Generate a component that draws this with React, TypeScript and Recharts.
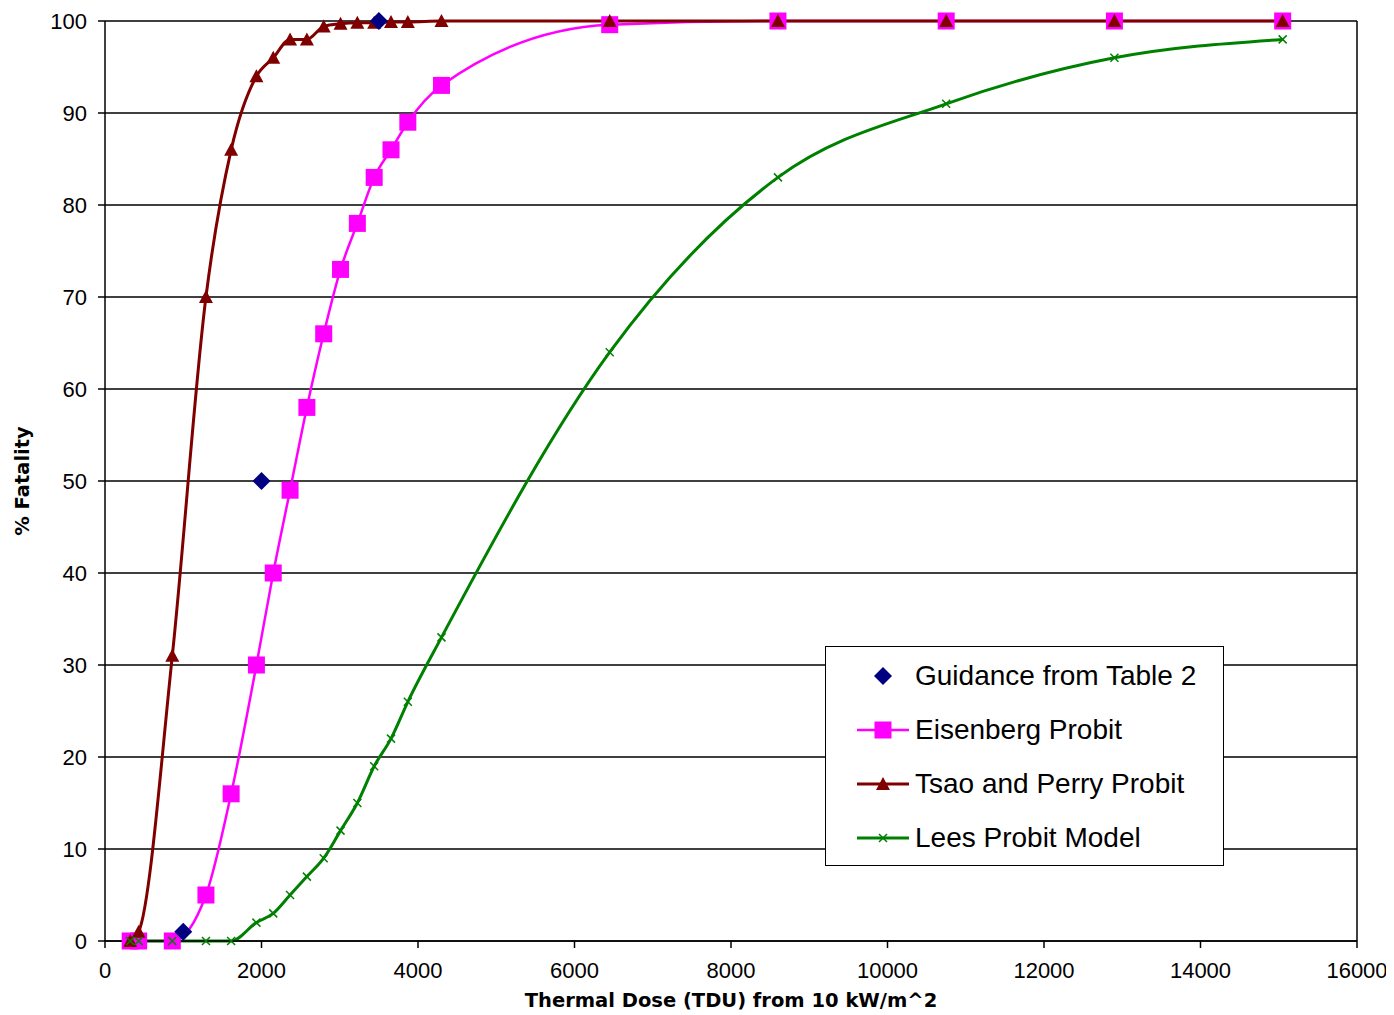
import { LineChart, Line, XAxis, YAxis, CartesianGrid, Legend, ReferenceLine } from 'recharts';

// thermal dose steps (TDU) shared by the three probit models
const doses = [322, 430, 860, 1290, 1612, 1935, 2150, 2365, 2580, 2795, 3010, 3225, 3440, 3655, 3870, 4300, 6450, 8600, 10750, 12900, 15050];

const eisenbergFatality = [0, 0, 0, 5, 16, 30, 40, 49, 58, 66, 73, 78, 83, 86, 89, 93, 99.6, 100, 100, 100, 100];
const tsaoPerryFatality = [0, 1, 31, 70, 86, 94, 96, 98, 98, 99.4, 99.7, 99.8, 99.8, 99.9, 99.9, 100, 100, 100, 100, 100, 100];
const leesFatality = [0, 0, 0, 0, 0, 2, 3, 5, 7, 9, 12, 15, 19, 22, 26, 33, 64, 83, 91, 96, 98];

const guidanceDoses = [1000, 2000, 3500];
const guidanceFatality = [1, 50, 100];

const xTicks = [0, 2000, 4000, 6000, 8000, 10000, 12000, 14000, 16000];
const yTicks = [0, 10, 20, 30, 40, 50, 60, 70, 80, 90, 100];

const toPoints = (xs: number[], ys: number[]) => xs.map((x, i) => ({ x, y: ys[i] }));

const eisenberg = toPoints(doses, eisenbergFatality);
const tsaoPerry = toPoints(doses, tsaoPerryFatality);
const lees = toPoints(doses, leesFatality);
const guidance = toPoints(guidanceDoses, guidanceFatality);

const MAGENTA = '#FF00FF';
const MAROON = '#800000';
const GREEN = '#008000';
const NAVY = '#000080';

const tickFont = { fill: '#000', fontSize: 22, fontFamily: '"Liberation Sans", Arial, sans-serif' };
const titleFont = { fill: '#000', fontSize: 19.5, fontWeight: 700, fontFamily: '"DejaVu Sans", Verdana, sans-serif' };

type Pt = { cx: number; cy: number };

const Square = ({ cx, cy }: Pt) => <rect x={cx - 8.5} y={cy - 8.5} width={17} height={17} fill={MAGENTA} />;

const Triangle = ({ cx, cy }: Pt) => (
  <polygon points={`${cx},${cy - 7} ${cx + 7},${cy + 6} ${cx - 7},${cy + 6}`} fill={MAROON} />
);

const Cross = ({ cx, cy }: Pt) => (
  <path d={`M${cx - 4},${cy - 4}L${cx + 4},${cy + 4}M${cx - 4},${cy + 4}L${cx + 4},${cy - 4}`} stroke={GREEN} strokeWidth={1.5} fill="none" />
);

const Diamond = ({ cx, cy }: Pt) => (
  <polygon points={`${cx},${cy - 9} ${cx + 9},${cy} ${cx},${cy + 9} ${cx - 9},${cy}`} fill={NAVY} />
);

const legendItems = [
  { name: 'Guidance from Table 2', color: NAVY, line: false, width: 0, Marker: Diamond },
  { name: 'Eisenberg Probit', color: MAGENTA, line: true, width: 2.5, Marker: Square },
  { name: 'Tsao and Perry Probit', color: MAROON, line: true, width: 3, Marker: Triangle },
  { name: 'Lees Probit Model', color: GREEN, line: true, width: 3, Marker: Cross },
];

function LegendBox() {
  return (
    <div
      style={{
        width: 399,
        height: 220,
        boxSizing: 'border-box',
        border: '1px solid #000',
        background: '#fff',
        paddingTop: 2,
        display: 'flex',
        flexDirection: 'column',
      }}
    >
      {legendItems.map(({ name, color, line, width, Marker }) => (
        <div key={name} style={{ height: 54.5, display: 'flex', alignItems: 'center' }}>
          <svg width={52} height={24} style={{ marginLeft: 31, marginRight: 6 }}>
            {line && <line x1={0} y1={12} x2={52} y2={12} stroke={color} strokeWidth={width} />}
            <Marker cx={26} cy={12} />
          </svg>
          <span style={{ fontSize: 28, fontFamily: '"Liberation Sans", Arial, sans-serif', color: '#000', whiteSpace: 'nowrap' }}>
            {name}
          </span>
        </div>
      ))}
    </div>
  );
}

function XTitle({ viewBox }: any) {
  return (
    <text x={viewBox.x + viewBox.width / 2} y={viewBox.y + 66} textAnchor="middle" {...titleFont}>
      Thermal Dose (TDU) from 10 kW/m^2
    </text>
  );
}

function YTitle({ viewBox }: any) {
  const x = viewBox.x + 14;
  const y = viewBox.y + viewBox.height / 2;
  return (
    <text x={x} y={y} dy="0.35em" textAnchor="middle" transform={`rotate(-90, ${x}, ${y})`} {...titleFont}>
      % Fatality
    </text>
  );
}

export default function App() {
  return (
    <LineChart width={1386} height={1007} margin={{ top: 13, right: 37, bottom: 0, left: 0 }}>
      <CartesianGrid vertical={false} stroke="#000" strokeWidth={1.5} />
      <XAxis
        dataKey="x"
        type="number"
        domain={[0, 16000]}
        ticks={xTicks}
        interval={0}
        height={74}
        tick={tickFont}
        tickSize={7}
        tickMargin={14}
        axisLine={{ stroke: '#000', strokeWidth: 1.5 }}
        tickLine={{ stroke: '#000', strokeWidth: 1.5 }}
        label={<XTitle />}
      />
      <YAxis
        dataKey="y"
        type="number"
        domain={[0, 100]}
        ticks={yTicks}
        interval={0}
        width={97}
        tick={tickFont}
        tickSize={7}
        tickMargin={11}
        axisLine={{ stroke: '#000', strokeWidth: 1.5 }}
        tickLine={{ stroke: '#000', strokeWidth: 1.5 }}
        label={<YTitle />}
      />
      <ReferenceLine x={16000} stroke="#000" strokeWidth={1.5} />
      <Line
        data={eisenberg}
        dataKey="y"
        name="Eisenberg Probit"
        type="monotone"
        stroke={MAGENTA}
        strokeWidth={2.5}
        dot={(p: any) => <Square key={`e${p.index}`} cx={p.cx} cy={p.cy} />}
        activeDot={false}
        isAnimationActive={false}
      />
      <Line
        data={tsaoPerry}
        dataKey="y"
        name="Tsao and Perry Probit"
        type="monotone"
        stroke={MAROON}
        strokeWidth={3}
        dot={(p: any) => <Triangle key={`t${p.index}`} cx={p.cx} cy={p.cy} />}
        activeDot={false}
        isAnimationActive={false}
      />
      <Line
        data={lees}
        dataKey="y"
        name="Lees Probit Model"
        type="monotone"
        stroke={GREEN}
        strokeWidth={3}
        dot={(p: any) => <Cross key={`l${p.index}`} cx={p.cx} cy={p.cy} />}
        activeDot={false}
        isAnimationActive={false}
      />
      <Line
        data={guidance}
        dataKey="y"
        name="Guidance from Table 2"
        stroke="none"
        dot={(p: any) => <Diamond key={`g${p.index}`} cx={p.cx} cy={p.cy} />}
        activeDot={false}
        isAnimationActive={false}
      />
      <Legend
        layout="vertical"
        align="center"
        verticalAlign="middle"
        content={<LegendBox />}
        wrapperStyle={{ left: 817, top: 638, width: 399, height: 220 }}
      />
    </LineChart>
  );
}
